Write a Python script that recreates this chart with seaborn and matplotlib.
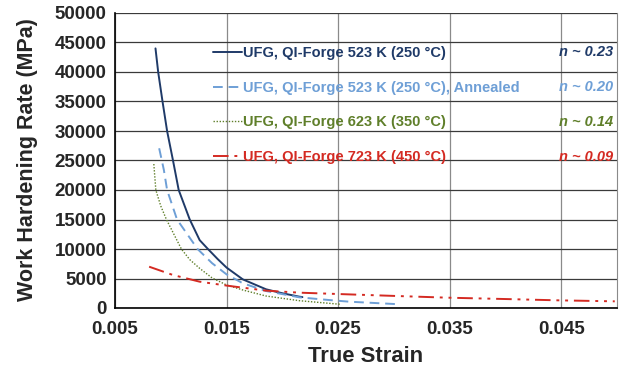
import matplotlib
matplotlib.use("Agg")
import matplotlib.pyplot as plt
import seaborn as sns
import pandas as pd

# ---- data ----
x_523 = [0.00863, 0.00887, 0.00926, 0.00967, 0.0102, 0.01071, 0.0117, 0.01259, 0.01333, 0.0142,
         0.0150, 0.01646, 0.01854, 0.0200, 0.02152, 0.0218]
y_523 = [44000, 40000, 35000, 30000, 25000, 20000, 15000, 11500, 10000, 8300,
         6850, 4850, 3170, 2500, 1920, 1850]

x_523a = [0.00896, 0.00938, 0.00967, 0.01056, 0.0124, 0.0137, 0.0150, 0.01646, 0.01854, 0.02152,
          0.0242, 0.0260, 0.0306]
y_523a = [27070, 23400, 20000, 15000, 10000, 7600, 5700, 4190, 2880, 1810,
          1350, 1070, 620]

x_623 = [0.00848, 0.00866, 0.0091, 0.00961, 0.01095, 0.0117, 0.01259, 0.0137, 0.0150, 0.01646,
         0.01854, 0.02152, 0.02524]
y_623 = [24400, 20000, 17300, 15000, 10000, 8200, 6720, 5100, 3900, 3050,
         2030, 1240, 620]

x_723 = [0.00806, 0.0102, 0.01259, 0.0150, 0.01854, 0.02152, 0.0250, 0.0300, 0.0348, 0.0400,
         0.0447, 0.0498]
y_723 = [7000, 5590, 4460, 3800, 2940, 2600, 2370, 2050, 1750, 1520,
         1300, 1130]

labels = ["UFG, QI-Forge 523 K (250 \u00b0C)",
          "UFG, QI-Forge 523 K (250 \u00b0C), Annealed",
          "UFG, QI-Forge 623 K (350 \u00b0C)",
          "UFG, QI-Forge 723 K (450 \u00b0C)"]
n_labels = ["n ~ 0.23", "n ~ 0.20", "n ~ 0.14", "n ~ 0.09"]
x_ticks = [0.005, 0.015, 0.025, 0.035, 0.045]
y_ticks = [0, 5000, 10000, 15000, 20000, 25000, 30000, 35000, 40000, 45000, 50000]

colors = ["#1f3a68", "#6e9fd6", "#5f7f2a", "#d42a22"]
styles = ["-", (0, (5, 3)), (0, (1, 1.2)), (0, (8, 3, 1.5, 3, 1.5, 3))]
widths = [1.4, 1.4, 1.0, 1.4]

sns.set_style("white")
plt.rcParams['font.family'] = ['Liberation Sans', 'DejaVu Sans']

fig = plt.figure(figsize=(6.3, 3.75), dpi=100)
ax = fig.add_axes([115/630, 1-308/375, (617-115)/630, (308-13)/375])

series = [(x_523, y_523), (x_523a, y_523a), (x_623, y_623), (x_723, y_723)]
handles = []
for (xs, ys), lab, c, ls, lw in zip(series, labels, colors, styles, widths):
    df = pd.DataFrame({"x": xs, "y": ys})
    sns.lineplot(data=df, x="x", y="y", ax=ax, color=c, linewidth=lw,
                 sort=False, estimator=None, label=lab)
    ln = ax.get_lines()[-1]
    ln.set_linestyle(ls)
    handles.append(ln)

ax.set_xlim(0.005, 0.05)
ax.set_ylim(0, 50000)
ax.set_xticks(x_ticks)
ax.set_xticklabels([f"{t:.3f}" for t in x_ticks])
ax.set_yticks(y_ticks)
ax.set_yticklabels([str(t) for t in y_ticks])
ax.tick_params(axis="both", labelsize=13.5, length=4, width=1, direction="out")
ax.tick_params(axis="y", pad=2)
ax.tick_params(axis="x", pad=5)
for lab in ax.get_xticklabels() + ax.get_yticklabels():
    lab.set_fontweight("bold")

ax.grid(True, axis="y", color="#3a3a3a", linewidth=0.9)
ax.grid(True, axis="x", color="#8a8a8a", linewidth=0.9)
ax.set_axisbelow(True)
ax.spines["top"].set_visible(False)
ax.spines["right"].set_color("#8a8a8a")
ax.spines["left"].set_color("black")
ax.spines["bottom"].set_color("black")
ax.spines["left"].set_linewidth(1.2)
ax.spines["bottom"].set_linewidth(1.2)

ax.set_xlabel("True Strain", fontsize=15.8, fontweight="bold", va="center")
ax.set_ylabel("Work Hardening Rate (MPa)", fontsize=15.5, fontweight="bold", va="center")
ax.xaxis.set_label_coords((366-115)/502, -(357-308)/295)
ax.yaxis.set_label_coords((28-115)/502, 1-(160-13)/295)

leg = ax.legend(handles=handles, labels=labels, loc="upper left",
                bbox_to_anchor=((213-115)/502, 1-(46-13)/295), frameon=False,
                fontsize=10.5, handlelength=2.0, handletextpad=0.05,
                labelspacing=1.42, borderpad=0, borderaxespad=0)
for t, c in zip(leg.get_texts(), colors):
    t.set_color(c)
    t.set_fontweight("bold")

for i, (nl, c) in enumerate(zip(n_labels, colors)):
    yc = 1 - ((52 + 35*i) - 13) / 295
    ax.text(0.992, yc, nl, transform=ax.transAxes, ha="right", va="center",
            fontsize=10.5, fontweight="bold", fontstyle="italic", color=c)

fig.savefig("out.png", dpi=100)
